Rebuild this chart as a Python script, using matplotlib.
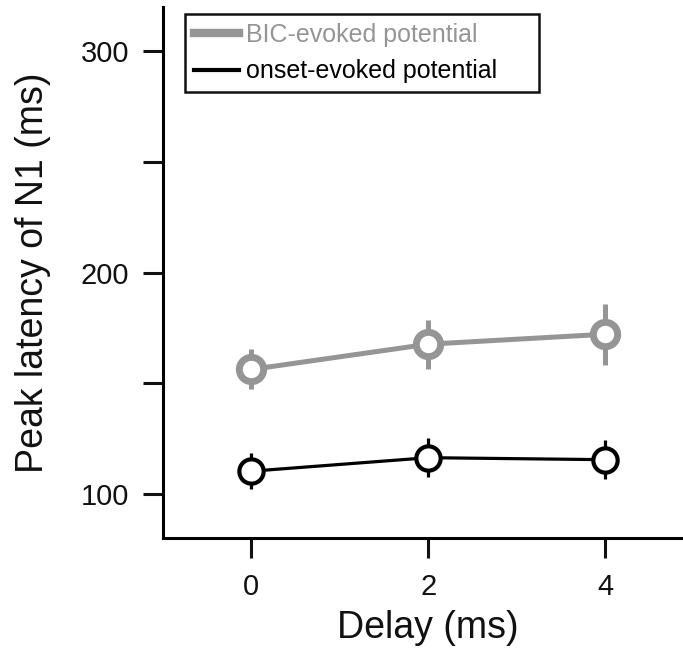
import numpy as np
import matplotlib
matplotlib.use('Agg')
import matplotlib.pyplot as plt
from matplotlib.lines import Line2D

plt.rcParams['font.family'] = ['Liberation Sans', 'DejaVu Sans']

delay = [0, 2, 4]
bic_latency = [156.2, 167.6, 172.1]
bic_err = [9.0, 11.0, 13.8]
onset_latency = [110.2, 116.3, 115.4]
onset_err = [8.1, 8.8, 8.8]

gray = '#959595'

fig = plt.figure(figsize=(6.83, 6.54), dpi=100)
ax = fig.add_axes([163 / 683, 1 - 538 / 654, 1 - 163 / 683, (538 - 7) / 654])

ax.errorbar(delay, bic_latency, yerr=bic_err, color=gray, lw=3.6, elinewidth=3.6,
            marker='o', ms=17.5, mfc='white', mec=gray, mew=5.0, capsize=0,
            label='BIC-evoked potential', zorder=3)
ax.errorbar(delay, onset_latency, yerr=onset_err, color='black', lw=2.3, elinewidth=2.3,
            marker='o', ms=17.5, mfc='white', mec='black', mew=3.0, capsize=0,
            label='onset-evoked potential', zorder=3)

ax.set_xlim(-1.0, 4.88)
ax.set_ylim(80, 320)
ax.set_xticks(delay)
ax.set_yticks([100, 150, 200, 250, 300])
ax.set_yticklabels(['100', '', '200', '', '300'])

for side in ['top', 'right']:
    ax.spines[side].set_visible(False)
for side in ['left', 'bottom']:
    ax.spines[side].set_linewidth(2.2)
ax.tick_params(direction='out', length=14.4, width=2.2, labelsize=21, colors='#111111')
ax.tick_params(axis='y', pad=10)
ax.tick_params(axis='x', pad=11)

ax.set_xlabel('Delay (ms)', fontsize=27, color='#111111')
ax.xaxis.set_label_coords((2 + 1.0) / 5.88, -0.135)
ax.set_ylabel('Peak latency of N1 (ms)', fontsize=27, color='#111111')
ax.yaxis.set_label_coords(-0.215, 0.5)

# legend shows plain lines, box stretched wider than its text
handles = [Line2D([], [], color=gray, lw=6),
           Line2D([], [], color='black', lw=3)]
leg = ax.legend(handles, ['BIC-evoked potential', 'onset-evoked potential'],
                loc='upper left', mode='expand',
                bbox_to_anchor=((185 - 163) / 520, 1 - 7 / 531, (539 - 185) / 520, 0),
                fontsize=18, frameon=True, fancybox=False, framealpha=1,
                edgecolor='#111111', handlelength=1.8, handletextpad=0.3,
                borderpad=0.35, labelspacing=0.5, borderaxespad=0)
leg.get_frame().set_linewidth(1.8)
leg.get_texts()[0].set_color(gray)

fig.savefig('out.png', dpi=100)
